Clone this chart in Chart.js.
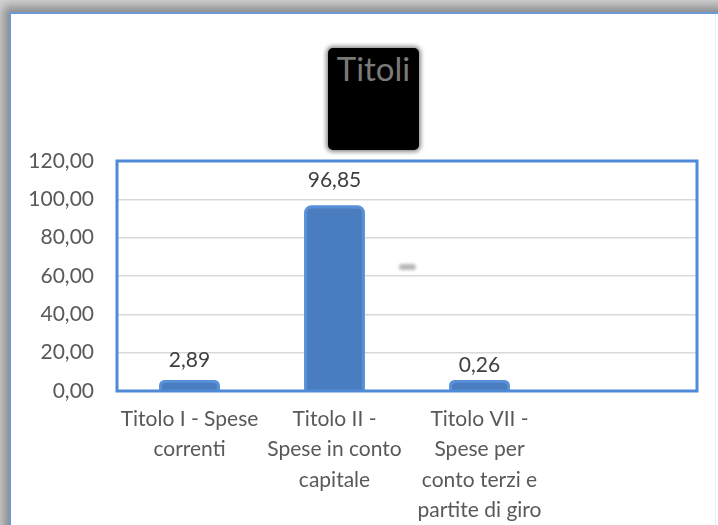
<!DOCTYPE html>
<html>
<head>
<meta charset="utf-8">
<script src="https://cdn.jsdelivr.net/npm/chart.js@4"></script>
<style>
  html, body { margin:0; padding:0; }
  body { width:718px; height:525px; position:relative; overflow:hidden; background:#d4d4d4; }
  #card { position:absolute; left:9px; top:12px; width:720px; height:530px; background:#fff;
          border-left:2px solid #6d9ad6; border-top:2px solid #6d9ad6;
          box-shadow: -3px -3px 10px 3px rgba(0,0,0,0.35); }
  #edge { position:absolute; left:715px; top:14px; width:1px; height:511px; background:#e4ecf6; }
  #titlebox { position:absolute; left:328px; top:48px; width:91px; height:102px; background:#000;
              box-shadow: 0 0 4px 2px rgba(0,0,0,0.45); border-radius:5px;
              color:#7a7a7a; font-family:Lato, sans-serif; font-size:33px; text-align:center; line-height:40px; }
  #smudge { position:absolute; left:399px; top:264px; width:17px; height:6px; background:#b8b8b8;
            border-radius:3px; filter:blur(1.5px); }
  canvas { position:absolute; left:0; top:0; }
</style>
</head>
<body>
<div id="card"></div>
<div id="edge"></div>
<div id="titlebox">Titoli</div>
<div id="smudge"></div>
<canvas id="c" width="718" height="525"></canvas>
<script>
const categories = [
  ["Titolo I - Spese", "correnti"],
  ["Titolo II -", "Spese in conto", "capitale"],
  ["Titolo VII -", "Spese per", "conto terzi e", "partite di giro"],
  ""
];
const values = [2.89, 96.85, 0.26, null];
const yMin = 0, yMax = 120, yStep = 20;

function fmt(v) { return Number(v).toFixed(2).replace('.', ','); }

const framePlugin = {
  id: 'frame',
  beforeDatasetsDraw(chart) {
    const ctx = chart.ctx;
    ctx.save();
    ctx.shadowColor = 'rgba(80,140,220,0.95)';
    ctx.shadowBlur = 5;
  },
  afterDatasetsDraw(chart) {
    const ctx = chart.ctx;
    ctx.restore();
    const a = chart.chartArea;
    ctx.save();
    ctx.strokeStyle = '#4f8ad6';
    ctx.lineWidth = 3;
    ctx.strokeRect(a.left, a.top, a.right - a.left, a.bottom - a.top);
    ctx.restore();
    const meta = chart.getDatasetMeta(0);
    const ys = chart.scales.y;
    ctx.save();
    ctx.fillStyle = '#404040';
    ctx.font = '21px Lato, sans-serif';
    ctx.textAlign = 'center';
    ctx.textBaseline = 'middle';
    meta.data.forEach((el, i) => {
      const v = chart.data.datasets[0].data[i];
      if (v === null || v === undefined) return;
      ctx.fillText(fmt(v), el.x, ys.getPixelForValue(v) - 25);
    });
    ctx.restore();
  }
};

new Chart(document.getElementById('c'), {
  type: 'bar',
  data: {
    labels: categories,
    datasets: [{
      data: values,
      backgroundColor: '#4a7dbf',
      borderColor: '#5a93d8',
      borderWidth: 3,
      borderRadius: { topLeft: 7, topRight: 7, bottomLeft: 0, bottomRight: 0 },
      borderSkipped: 'bottom',
      minBarLength: 11,
      categoryPercentage: 1,
      barPercentage: 0.42
    }]
  },
  options: {
    responsive: false,
    animation: false,
    devicePixelRatio: 1,
    layout: { padding: { top: 161, left: 0, right: 21, bottom: 0 } },
    plugins: { legend: { display: false }, title: { display: false }, tooltip: { enabled: false } },
    scales: {
      y: {
        min: yMin, max: yMax,
        ticks: { stepSize: yStep, padding: 23, color: '#595959',
                 font: { family: 'Lato, sans-serif', size: 21 },
                 callback: v => fmt(v) },
        grid: { color: '#d9d9d9', lineWidth: 1.5, drawTicks: false },
        border: { display: false },
        afterFit(s) { s.width = 117; }
      },
      x: {
        ticks: { padding: 13, color: '#595959', maxRotation: 0, autoSkip: false,
                 font: { family: 'Lato, sans-serif', size: 21, lineHeight: 1.45 } },
        grid: { display: false, drawTicks: false },
        border: { display: false },
        afterFit(s) { s.height = 134; }
      }
    }
  },
  plugins: [framePlugin]
});
</script>
</body>
</html>
